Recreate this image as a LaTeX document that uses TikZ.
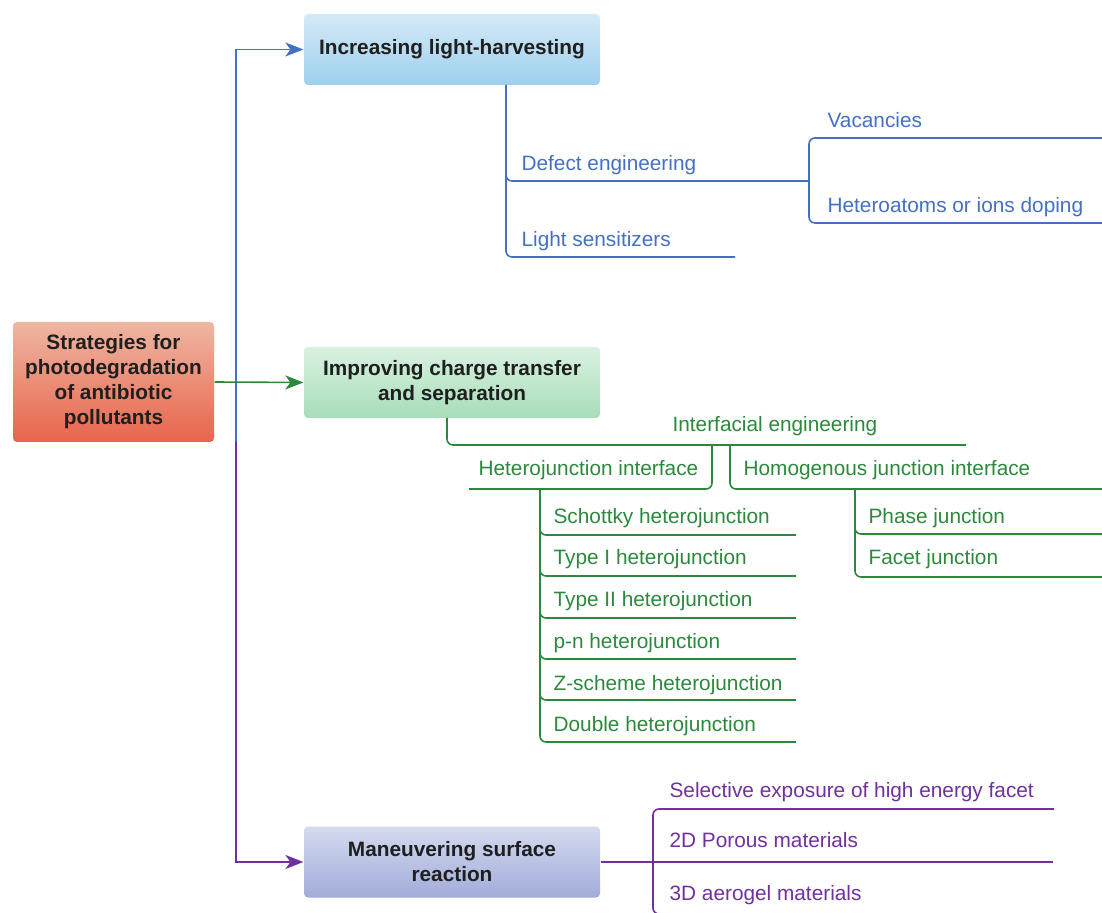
\documentclass[tikz,border=0pt]{standalone}
\usepackage{fontspec}
\setmainfont{Liberation Sans}
\usetikzlibrary{arrows.meta}

\definecolor{lhblue}{RGB}{68,112,196}
\definecolor{csgreen}{RGB}{44,136,60}
\definecolor{mrpurple}{RGB}{112,48,160}
\definecolor{roottop}{RGB}{238,182,162}
\definecolor{rootbottom}{RGB}{232,100,76}
\definecolor{lhtop}{RGB}{212,233,246}
\definecolor{lhbottom}{RGB}{158,208,238}
\definecolor{cstop}{RGB}{216,241,224}
\definecolor{csbottom}{RGB}{168,221,185}
\definecolor{mrtop}{RGB}{212,218,239}
\definecolor{mrbottom}{RGB}{162,172,217}

\begin{document}
\begin{tikzpicture}[
    x = 0.5pt, y = -0.5pt, % one unit per pixel, y grows downwards
    > = {Stealth[length=9pt,width=7pt,inset=2.5pt]}, % arrow head style
    font = \fontsize{10.4}{12.5}\selectfont,
    semithick % line style
    ]

    \tikzset{
    box/.style = {rounded corners=2pt, minimum width=148pt, minimum height=35.5pt,
        align=center, text=black!88, font=\fontsize{10.4}{12.5}\selectfont\bfseries},
    leaf/.style = {anchor=base west, inner sep=0pt},
    branch/.style = {rounded corners=3pt, line width=0.8pt}
    }

    \useasboundingbox (0,0) rectangle (1102,913);

    % main boxes
    \node[box, top color=roottop, bottom color=rootbottom,
        minimum width=100.5pt, minimum height=60pt] (root) at (113.5,382)
        {Strategies for\\photodegradation\\of antibiotic\\pollutants};
    \node[box, top color=lhtop, bottom color=lhbottom] (lh) at (452,49.5) {Increasing light-harvesting};
    \node[box, top color=cstop, bottom color=csbottom] (cs) at (452,382.5) {Improving charge transfer\\and separation};
    \node[box, top color=mrtop, bottom color=mrbottom] (mr) at (452,862) {Maneuvering surface\\reaction};

    \coordinate (fork) at (236,442);
    \draw[->, lhblue, line width=0.8pt] (fork) |- (lh.west);
    \draw[->, mrpurple, line width=0.8pt] (fork) |- (mr.west);
    \draw[->, csgreen, line width=0.8pt] (root.east) -- (cs.west);

    % light-harvesting
    \node[leaf, text=lhblue] (defect) at (521,171) {Defect engineering};
    \node[leaf, text=lhblue] (light) at (521,247) {Light sensitizers};
    \node[leaf, text=lhblue] (vacancy) at (827,128) {Vacancies};
    \node[leaf, text=lhblue] (doping) at (827,213) {Heteroatoms or ions doping};

    \coordinate (lhfoot) at (506,85);
    \coordinate (defectend) at (809,181);
    \coordinate (lightend) at (735,257);
    \coordinate (vacancyend) at (1103,138);
    \coordinate (dopingend) at (1103,223);
    \draw[branch, lhblue] (lhfoot) |- (defectend);
    \draw[branch, lhblue] (lhfoot) |- (lightend);
    \draw[branch, lhblue] (defectend) |- (vacancyend);
    \draw[branch, lhblue] (defectend) |- (dopingend);

    % charge transfer and separation
    \node[leaf, text=csgreen] (interface) at (672,432) {Interfacial engineering};
    \node[leaf, text=csgreen] (hetero) at (478,476) {Heterojunction interface};
    \node[leaf, text=csgreen] (homo) at (743,476) {Homogenous junction interface};
    \node[leaf, text=csgreen] (schottky) at (553,524) {Schottky heterojunction};
    \node[leaf, text=csgreen] (typeone) at (553,565) {Type I heterojunction};
    \node[leaf, text=csgreen] (typetwo) at (553,607) {Type II heterojunction};
    \node[leaf, text=csgreen] (pn) at (553,648) {p-n heterojunction};
    \node[leaf, text=csgreen] (zscheme) at (553,690) {Z-scheme heterojunction};
    \node[leaf, text=csgreen] (double) at (553,731) {Double heterojunction};
    \node[leaf, text=csgreen] (phase) at (868,524) {Phase junction};
    \node[leaf, text=csgreen] (facet) at (868,565) {Facet junction};

    \coordinate (csfoot) at (447,418);
    \coordinate (interfaceend) at (966,445);
    \coordinate (heterotop) at (712,445);
    \coordinate (homotop) at (730,445);
    \coordinate (heteroend) at (469,489);
    \coordinate (homoend) at (1103,489);
    \coordinate (heterofoot) at (540,489);
    \coordinate (homofoot) at (855,489);
    \draw[branch, csgreen] (csfoot) |- (interfaceend);
    \draw[branch, csgreen] (heterotop) |- (heteroend);
    \draw[branch, csgreen] (homotop) |- (homoend);

    \coordinate (schottkyend) at (796,535);
    \coordinate (typeoneend) at (796,576);
    \coordinate (typetwoend) at (796,618);
    \coordinate (pnend) at (796,659);
    \coordinate (zschemeend) at (796,700);
    \coordinate (doubleend) at (796,742);
    \draw[branch, csgreen] (heterofoot) |- (schottkyend);
    \draw[branch, csgreen] (heterofoot) |- (typeoneend);
    \draw[branch, csgreen] (heterofoot) |- (typetwoend);
    \draw[branch, csgreen] (heterofoot) |- (pnend);
    \draw[branch, csgreen] (heterofoot) |- (zschemeend);
    \draw[branch, csgreen] (heterofoot) |- (doubleend);

    \coordinate (phaseend) at (1103,534);
    \coordinate (facetend) at (1103,577);
    \draw[branch, csgreen] (homofoot) |- (phaseend);
    \draw[branch, csgreen] (homofoot) |- (facetend);

    % surface reaction
    \node[leaf, text=mrpurple] (exposure) at (669,797) {Selective exposure of high energy facet};
    \node[leaf, text=mrpurple] (porous) at (669,847) {2D Porous materials};
    \node[leaf, text=mrpurple] (aerogel) at (669,900) {3D aerogel materials};

    \coordinate (mrbrace) at (653,862);
    \coordinate (exposureend) at (1054,809);
    \coordinate (porousend) at (1053,862);
    \coordinate (aerogelend) at (1054,914);
    \draw[mrpurple, line width=0.8pt] (mr.east) -- (porousend);
    \draw[branch, mrpurple] (mrbrace) |- (exposureend);
    \draw[branch, mrpurple] (mrbrace) |- (aerogelend);

\end{tikzpicture}
\end{document}
